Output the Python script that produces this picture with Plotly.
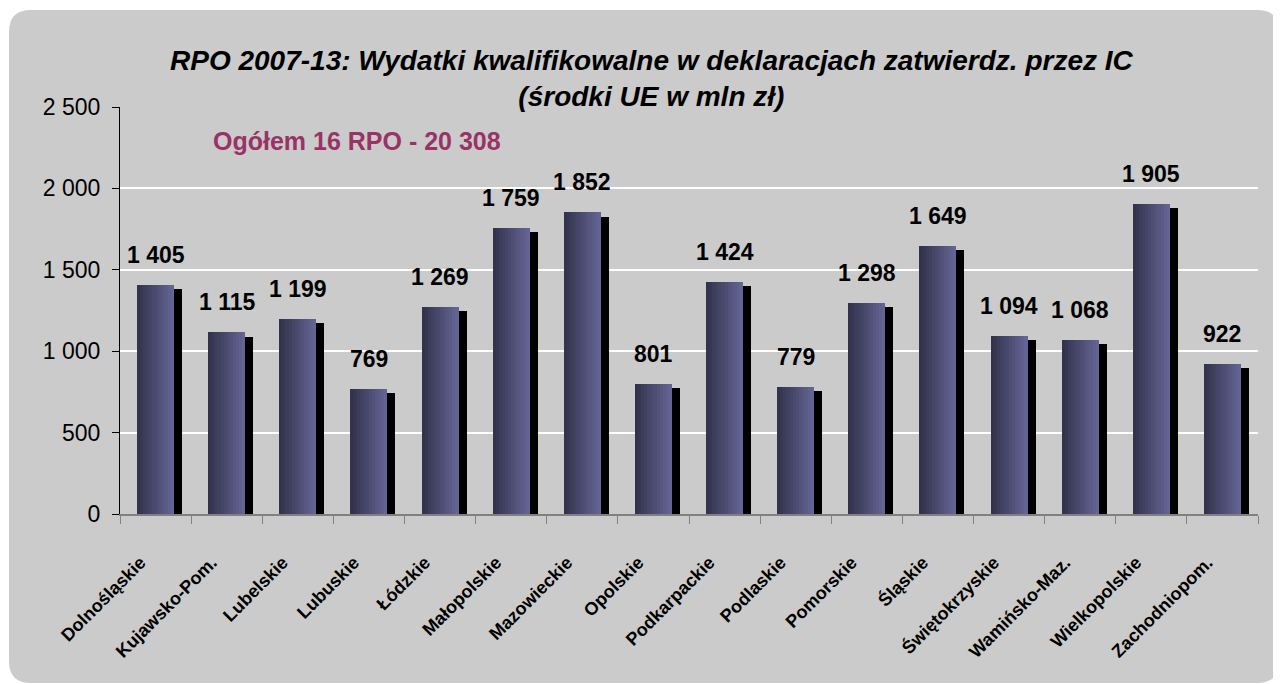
import plotly.graph_objects as go

categories = ["Dolnośląskie", "Kujawsko-Pom.", "Lubelskie", "Lubuskie", "Łódzkie",
              "Małopolskie", "Mazowieckie", "Opolskie", "Podkarpackie", "Podlaskie",
              "Pomorskie", "Śląskie", "Świętokrzyskie", "Wamińsko-Maz.", "Wielkopolskie",
              "Zachodniopom."]
values = [1405, 1115, 1199, 769, 1269, 1759, 1852, 801, 1424, 779, 1298, 1649, 1094, 1068, 1905, 922]
title_lines = ["RPO 2007-13: Wydatki kwalifikowalne w deklaracjach zatwierdz. przez IC",
               "(środki UE w mln zł)"]
total_text = "Ogółem 16 RPO - 20 308"
y_ticks = [0, 500, 1000, 1500, 2000, 2500]

# screen geometry (page has 8px body margin)
OFF = 8
SW, SH = 1281, 684
W, H = SW - OFF, SH - OFF
L, R, T, B = 120, 1258, 107, 514   # plot area in screen px

fig = go.Figure()

BAR_OFF = -0.26
BAR_W = 0.52
SH_SHIFT = 0.1125
SH_DROP = 25

fig.add_trace(go.Bar(x=categories, y=[v - SH_DROP for v in values], marker_color="#000000",
                     marker_line_width=0, offset=BAR_OFF + SH_SHIFT, width=BAR_W,
                     hoverinfo="skip", showlegend=False))

N = 12
c0 = (0x33, 0x33, 0x4e)
c1 = (0x64, 0x64, 0x94)
for i in range(N):
    t = i / (N - 1)
    col = "rgb(%d,%d,%d)" % tuple(round(a + (b - a) * t) for a, b in zip(c0, c1))
    fig.add_trace(go.Bar(x=categories, y=values, marker_color=col, marker_line_width=0,
                         offset=BAR_OFF + i * BAR_W / N,
                         width=BAR_W / N + (0.004 if i < N - 1 else 0),
                         hoverinfo="skip", showlegend=False))

FONT = "Liberation Sans, Arial"
annotations = []
for c, v in zip(categories, values):
    annotations.append(dict(x=c, y=v, xref="x", yref="y", text="<b>" + f"{v:,}".replace(",", " ") + "</b>",
                            showarrow=False, yanchor="bottom", yshift=15,
                            font=dict(family=FONT, size=23, color="#000000")))

def px(x):
    return (x - L) / (R - L)

def py(y):
    return (B - y) / (B - T)

annotations.append(dict(x=px(652), y=py(78), xref="paper", yref="paper",
                        text="<br>".join("<b><i>" + s + "</i></b>" for s in title_lines),
                        showarrow=False, xanchor="center", yanchor="middle",
                        font=dict(family=FONT, size=28, color="#000000")))
annotations.append(dict(x=px(211), y=py(141), xref="paper", yref="paper", text="<b>" + total_text + "</b>",
                        showarrow=False, xanchor="left", yanchor="middle",
                        font=dict(family=FONT, size=25, color="#993366")))

x0, x1, y0, y1, r = 9, 1279, 10, 683, 22
path = (f"M {px(x0 + r)},{py(y0)} L {px(x1 - r)},{py(y0)} Q {px(x1)},{py(y0)} {px(x1)},{py(y0 + r)} "
        f"L {px(x1)},{py(y1 - r)} Q {px(x1)},{py(y1)} {px(x1 - r)},{py(y1)} "
        f"L {px(x0 + r)},{py(y1)} Q {px(x0)},{py(y1)} {px(x0)},{py(y1 - r)} "
        f"L {px(x0)},{py(y0 + r)} Q {px(x0)},{py(y0)} {px(x0 + r)},{py(y0)} Z")

fig.update_layout(
    width=W, height=H,
    margin=dict(l=L - OFF, r=SW - R, t=T - OFF, b=SH - B, autoexpand=False),
    paper_bgcolor="#ffffff", plot_bgcolor="rgba(0,0,0,0)",
    barmode="overlay", bargap=0,
    separators=", ",
    annotations=annotations,
    shapes=[dict(type="path", path=path, xref="paper", yref="paper", fillcolor="#cbcbcb",
                 line_width=0, layer="below")],
    xaxis=dict(type="category", range=[-0.5, 15.5], tickson="boundaries", ticks="outside",
               ticklen=8, tickcolor="#808080", showline=True, linecolor="#808080", linewidth=2,
               tickangle=-45, ticklabelstandoff=29, ticklabelshift=-15, showgrid=False,
               tickfont=dict(family=FONT, size=18, color="#000000", weight="bold")),
    yaxis=dict(range=[0, 2500], tickvals=y_ticks, tickformat=",d", ticks="outside", ticklen=7,
               tickcolor="#000000", showline=True, linecolor="#000000", linewidth=1,
               ticklabelstandoff=7,
               showgrid=True, gridcolor="#ffffff", gridwidth=2, zeroline=False,
               tickfont=dict(family=FONT, size=23, color="#000000")),
)

fig.write_html("out.html")
